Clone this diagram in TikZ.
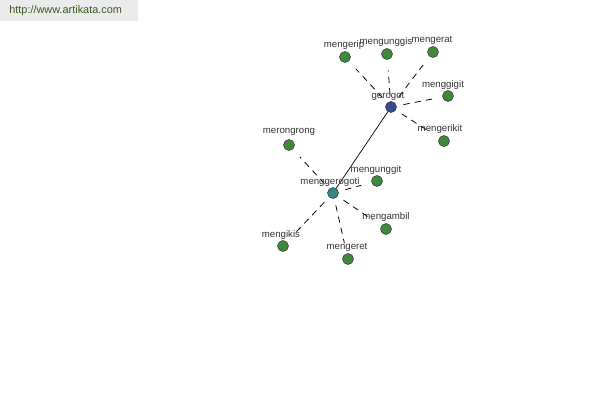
\documentclass[tikz,border=0pt]{standalone}
\usepackage{fontspec}
\setmainfont{Liberation Sans}
\definecolor{leafgreen}{HTML}{3F8A3A}
\definecolor{hubblue}{HTML}{3A4A8E}
\definecolor{hubteal}{HTML}{34878A}
\definecolor{wmgreen}{HTML}{3A5A1E}
\begin{document}
\begin{tikzpicture}[x=0.02cm,y=-0.02cm,
  leaf/.style={circle,draw=black!80,fill=leafgreen,minimum size=0.22cm,inner sep=0pt,line width=0.3pt},
  hubA/.style={circle,draw=black!80,fill=hubblue,minimum size=0.22cm,inner sep=0pt,line width=0.3pt},
  hubB/.style={circle,draw=black!80,fill=hubteal,minimum size=0.22cm,inner sep=0pt,line width=0.3pt},
  lbl/.style={font=\fontsize{5.5pt}{6pt}\selectfont,text=black!80,inner sep=0pt},
  dashlink/.style={draw=black,line width=0.45pt,dash pattern=on 3.5pt off 3pt,shorten >=6pt,shorten <=4pt},
  solidlink/.style={draw=black,line width=0.4pt}]
\useasboundingbox (0,0) rectangle (600,400);
\fill[black!8] (0,0) rectangle (138,21);
\node[lbl,font=\fontsize{6.2pt}{7pt}\selectfont,text=wmgreen,anchor=west] (wm) at (9,11) {http://www.artikata.com};
% hubs
\node[hubA] (g) at (391,107) {};
\node[hubB] (m) at (333,193) {};
% leaves of gerogot
\node[leaf] (l1) at (345,57) {};
\node[leaf] (l2) at (387,54) {};
\node[leaf] (l3) at (433,52) {};
\node[leaf] (l4) at (448,96) {};
\node[leaf] (l5) at (444,141) {};
% leaves of menggerogoti
\node[leaf] (k1) at (289,145) {};
\node[leaf] (k2) at (377,181) {};
\node[leaf] (k3) at (386,229) {};
\node[leaf] (k4) at (283,246) {};
\node[leaf] (k5) at (348,259) {};
% connectors
\draw[solidlink] (g) -- (m);
\foreach \n in {l1,l2,l3,l4,l5} \draw[dashlink] (g) -- (\n);
\foreach \n in {k1,k2,k3,k4,k5} \draw[dashlink] (m) -- (\n);
% labels
\node[lbl] (tg) at (388,96) {gerogot};
\node[lbl] (tm) at (330,182) {menggerogoti};
\node[lbl] (t1) at (344,45) {mengerip};
\node[lbl] (t2) at (386,42) {mengunggis};
\node[lbl] (t3) at (432,40) {mengerat};
\node[lbl] (t4) at (443,85) {menggigit};
\node[lbl] (t5) at (440,129) {mengerikit};
\node[lbl] (s1) at (289,132) {merongrong};
\node[lbl] (s2) at (376,170) {mengunggit};
\node[lbl] (s3) at (386,217) {mengambil};
\node[lbl] (s4) at (281,235) {mengikis};
\node[lbl] (s5) at (347,247) {mengeret};
\end{tikzpicture}
\end{document}
